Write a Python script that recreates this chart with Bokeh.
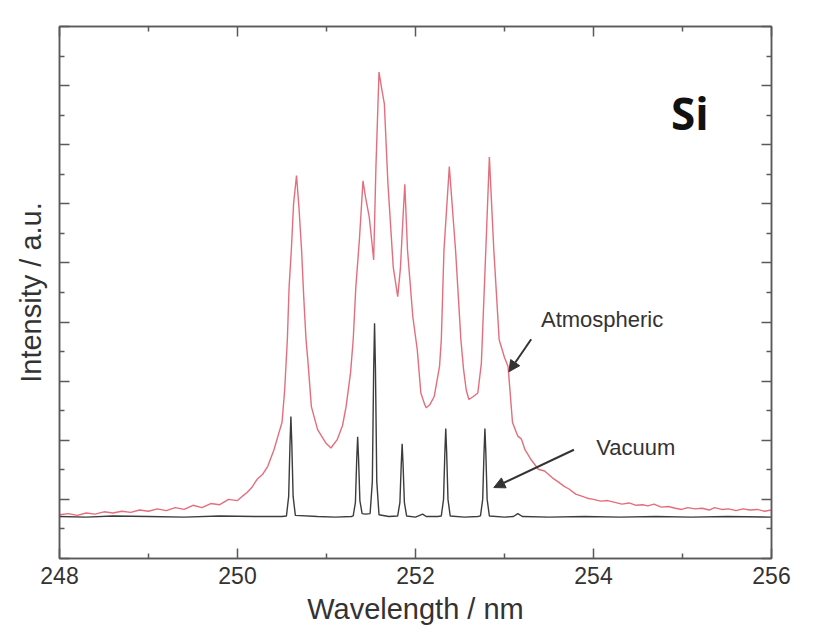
from bokeh.plotting import figure
from bokeh.models import Range1d, LinearAxis, FixedTicker, Label, Arrow, NormalHead
from bokeh.embed import file_html
from bokeh.resources import INLINE

# ---- data ----
atm_x = [248.00, 248.10, 248.20, 248.30, 248.40, 248.50, 248.60, 248.70, 248.80, 248.90,
         249.00, 249.10, 249.20, 249.30, 249.40, 249.50, 249.60, 249.70, 249.80, 249.90,
         250.00, 250.06, 250.11, 250.16, 250.22, 250.28, 250.34, 250.41, 250.46, 250.50,
         250.53, 250.56, 250.58, 250.605, 250.63, 250.663, 250.69, 250.72, 250.745, 250.77,
         250.79, 250.83, 250.90, 250.99, 251.05, 251.12, 251.18, 251.22, 251.27, 251.30,
         251.33, 251.37, 251.41, 251.44, 251.48, 251.51, 251.53, 251.555, 251.59, 251.62,
         251.65, 251.69, 251.75, 251.80, 251.83, 251.86, 251.88, 251.91, 251.97, 252.02,
         252.06, 252.10, 252.12, 252.16, 252.21, 252.27, 252.29, 252.32, 252.38, 252.45,
         252.51, 252.54, 252.57, 252.60, 252.65, 252.70, 252.74, 252.79, 252.83, 252.88,
         252.94, 253.00, 253.04, 253.09, 253.15, 253.19, 253.23, 253.30, 253.38, 253.45,
         253.49, 253.55, 253.60, 253.67, 253.72, 253.80, 253.86, 253.93, 254.00, 254.08,
         254.16, 254.24, 254.32, 254.40, 254.48, 254.55, 254.61, 254.68, 254.76, 254.84,
         254.92, 254.99, 255.06, 255.14, 255.22, 255.30, 255.36, 255.44, 255.52, 255.60,
         255.68, 255.76, 255.84, 255.92, 256.00]
atm_y = [0.74, 0.76, 0.73, 0.77, 0.75, 0.79, 0.77, 0.80, 0.78, 0.82,
         0.80, 0.84, 0.81, 0.86, 0.83, 0.90, 0.86, 0.93, 0.91, 1.00,
         0.98, 1.06, 1.12, 1.20, 1.34, 1.42, 1.56, 1.84, 2.10, 2.30,
         2.85, 3.70, 4.60, 5.22, 6.00, 6.48, 5.95, 5.22, 4.40, 3.70,
         3.36, 2.57, 2.18, 1.96, 1.87, 2.01, 2.25, 2.57, 3.14, 3.70,
         4.60, 5.40, 6.39, 6.10, 5.78, 5.35, 5.05, 6.60, 8.23, 7.95,
         7.69, 6.35, 4.93, 4.43, 4.90, 5.78, 6.33, 5.22, 4.09, 3.53,
         2.80, 2.62, 2.55, 2.60, 2.74, 3.25, 3.70, 5.22, 6.63, 5.22,
         3.70, 3.20, 2.85, 2.69, 2.74, 2.80, 3.30, 5.22, 6.79, 5.22,
         3.70, 3.40, 3.25, 2.30, 2.07, 2.02, 1.84, 1.67, 1.51, 1.48,
         1.43, 1.35, 1.30, 1.22, 1.18, 1.09, 1.06, 1.02, 1.00, 0.97,
         0.98, 0.95, 0.92, 0.94, 0.90, 0.91, 0.89, 0.92, 0.87, 0.88,
         0.85, 0.83, 0.86, 0.84, 0.85, 0.82, 0.86, 0.83, 0.84, 0.81,
         0.84, 0.82, 0.83, 0.80, 0.82]

vac_x = [248.00, 248.30, 248.60, 249.00, 249.40, 249.80, 250.20, 250.50,
         250.55, 250.575, 250.59, 250.60, 250.61, 250.625, 250.65,
         250.90, 251.10, 251.28,
         251.30, 251.325, 251.34, 251.35, 251.36, 251.375, 251.40,
         251.44, 251.49, 251.515, 251.53, 251.54, 251.55, 251.565, 251.59,
         251.70, 251.80, 251.825, 251.84, 251.85, 251.86, 251.875, 251.90,
         252.00, 252.08, 252.12, 252.25,
         252.29, 252.315, 252.33, 252.34, 252.35, 252.365, 252.39,
         252.55, 252.70,
         252.73, 252.755, 252.77, 252.78, 252.79, 252.805, 252.83,
         253.00, 253.10, 253.15, 253.20, 253.50, 253.90, 254.30, 254.70,
         255.10, 255.50, 256.00]
vac_y = [0.71, 0.70, 0.72, 0.71, 0.70, 0.72, 0.71, 0.71,
         0.72, 1.05, 1.95, 2.40, 1.95, 1.05, 0.73,
         0.71, 0.70, 0.71,
         0.72, 0.95, 1.70, 2.06, 1.70, 0.98, 0.76,
         0.75, 0.76, 1.30, 3.20, 3.98, 3.20, 1.30, 0.74,
         0.71, 0.72, 0.95, 1.60, 1.94, 1.60, 0.95, 0.72,
         0.70, 0.75, 0.71, 0.71,
         0.72, 1.00, 1.80, 2.20, 1.80, 1.00, 0.72,
         0.70, 0.71,
         0.72, 1.00, 1.80, 2.20, 1.80, 1.00, 0.72,
         0.70, 0.71, 0.76, 0.71, 0.70, 0.71, 0.70, 0.71,
         0.70, 0.71, 0.70]

x_major = [248, 250, 252, 254, 256]
x_minor = [249, 251, 253, 255]
y_major = [0, 1, 2, 3, 4, 5, 6, 7, 8, 9]
y_minor = [0.5, 1.5, 2.5, 3.5, 4.5, 5.5, 6.5, 7.5, 8.5]

AXC = "#5a5a5a"
TXT = "#333333"
FONT = "Liberation Sans"

p = figure(width=819, height=634, output_backend="svg", toolbar_location=None,
           x_range=Range1d(248, 256), y_range=Range1d(0, 9),
           x_axis_label="Wavelength / nm", y_axis_label="Intensity / a.u.",
           min_border_left=59, min_border_right=48, min_border_top=26, min_border_bottom=76)
p.frame_width = 712
p.frame_height = 532
p.background_fill_color = "white"
p.border_fill_color = "white"
p.outline_line_color = AXC
p.outline_line_width = 1.5
p.grid.visible = False

def style(ax, ticks, minor, show_labels):
    ax.ticker = FixedTicker(ticks=ticks, minor_ticks=minor)
    ax.axis_line_color = AXC
    ax.axis_line_width = 1.5
    ax.major_tick_line_color = AXC
    ax.major_tick_line_width = 1.5
    ax.minor_tick_line_color = AXC
    ax.minor_tick_line_width = 1.5
    ax.major_tick_in = 10
    ax.major_tick_out = 0
    ax.minor_tick_in = 5
    ax.minor_tick_out = 0
    if not show_labels:
        ax.major_label_overrides = {t: "" for t in ticks}
        ax.major_label_standoff = 0

style(p.xaxis[0], x_major, x_minor, True)
style(p.yaxis[0], y_major, y_minor, False)
p.xaxis[0].major_label_text_font = FONT
p.xaxis[0].major_label_text_font_size = "23px"
p.xaxis[0].major_label_text_color = TXT
p.xaxis[0].major_label_standoff = 8
for ax in (p.xaxis[0], p.yaxis[0]):
    ax.axis_label_text_font = FONT
    ax.axis_label_text_font_size = "29px"
    ax.axis_label_text_font_style = "normal"
    ax.axis_label_text_color = TXT
p.xaxis[0].axis_label_standoff = 6
p.yaxis[0].axis_label_standoff = 13

top = LinearAxis()
style(top, x_major, x_minor, False)
p.add_layout(top, "above")
right = LinearAxis()
style(right, y_major, y_minor, False)
p.add_layout(right, "right")

p.line(atm_x, atm_y, line_color="#dc4a5c", line_width=1.4, line_alpha=0.8)
p.line(vac_x, vac_y, line_color="#3c3c3c", line_width=1.4)

p.add_layout(Label(x=253.41, y=4.04, text="Atmospheric", text_font=FONT, text_font_size="22px",
                   text_color=TXT, text_baseline="middle", text_align="left"))
p.add_layout(Label(x=254.03, y=1.88, text="Vacuum", text_font=FONT, text_font_size="22px",
                   text_color=TXT, text_baseline="middle", text_align="left"))
p.add_layout(Label(x=254.87, y=7.53, text="Si", text_font="Open Sans", text_font_size="44px",
                   text_font_style="bold", text_color="#111111", text_baseline="middle",
                   text_align="left"))

p.add_layout(Arrow(end=NormalHead(size=11, fill_color="#333333", line_color="#333333"),
                   x_start=253.30, y_start=3.71, x_end=253.05, y_end=3.16,
                   line_color="#333333", line_width=2))
p.add_layout(Arrow(end=NormalHead(size=11, fill_color="#333333", line_color="#333333"),
                   x_start=253.78, y_start=1.84, x_end=252.88, y_end=1.20,
                   line_color="#333333", line_width=2))

open("out.html", "w").write(file_html(p, INLINE))
